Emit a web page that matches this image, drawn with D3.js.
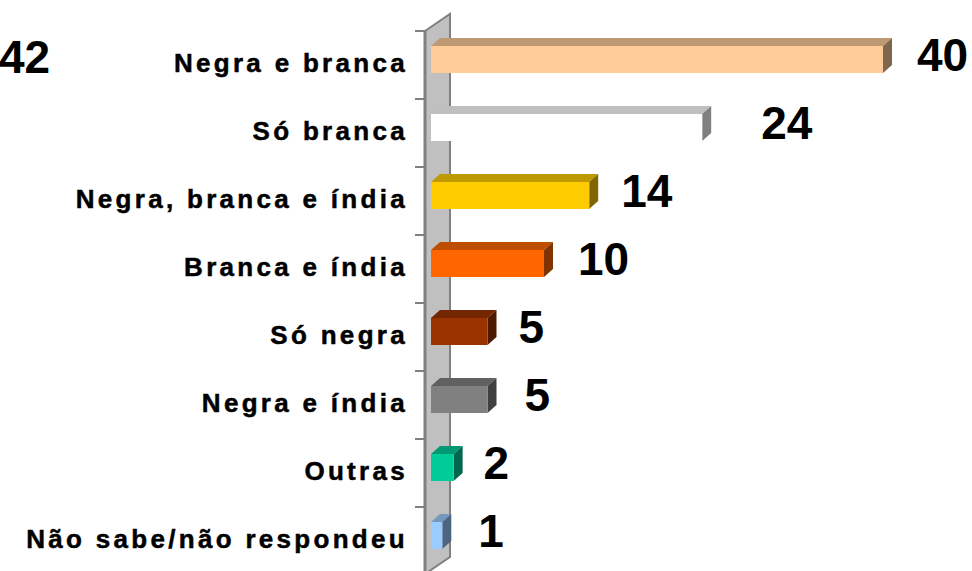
<!DOCTYPE html>
<html>
<head>
<meta charset="utf-8">
<script src="https://cdn.jsdelivr.net/npm/d3@7"></script>
<style>
  body { margin: 0; background: #fff; }
</style>
</head>
<body>
<script>
// data
var categories = ["Negra e branca", "Só branca", "Negra, branca e índia", "Branca e índia",
                  "Só negra", "Negra e índia", "Outras", "Não sabe/não respondeu"];
var values = [40, 24, 14, 10, 5, 5, 2, 1];
var barColors = ["#FFCC99", "#FFFFFF", "#FFCC00", "#FF6600", "#993300", "#808080", "#00CC99", "#99CCFF"];
var strayLabel = "42";

var W = 972, H = 571;
var svg = d3.select("body").append("svg")
  .attr("width", W).attr("height", H);

var x = d3.scaleLinear().domain([0, 40]).range([431, 883]);
var y = d3.scaleBand().domain(categories).range([31, 575]);

// depth of the bars and of the wall
var dx = 9, dy = 8;
var barOff = 15, barH = 27;
// gaps between bar end and value label (manual placement in original)
var labelGap = [25, 50, 23, 25, 22, 28, 21, 27];

function shade(c, k) {
  var r = d3.rgb(c);
  return d3.rgb(r.r * k, r.g * k, r.b * k).formatHex();
}

// wall
var wx0 = 425, wx1 = 450, wTop = 31, wDepth = 17, wBot = 574;
svg.append("path")
  .attr("d", "M" + wx0 + "," + wTop + "L" + wx1 + "," + (wTop - wDepth) +
             "L" + wx1 + "," + (wBot - wDepth) + "L" + wx0 + "," + wBot + "Z")
  .attr("fill", "#C0C0C0")
  .attr("stroke", "#808080")
  .attr("stroke-width", 2);
svg.append("line")
  .attr("x1", wx0).attr("x2", wx0).attr("y1", wTop).attr("y2", wBot)
  .attr("stroke", "#808080").attr("stroke-width", 3);

// tick marks
svg.selectAll(".tick")
  .data(categories)
  .enter().append("line")
  .attr("x1", 415).attr("x2", wx0)
  .attr("y1", function(d){ return y(d) })
  .attr("y2", function(d){ return y(d) })
  .attr("stroke", "#808080").attr("stroke-width", 2);

// bars
var bars = svg.selectAll(".bar")
  .data(values)
  .enter().append("g");

bars.append("path")  // top face
  .attr("d", function(d, i){
    var x0 = x(0), x1 = x(d), t = y(categories[i]) + barOff;
    return "M" + x0 + "," + t + "L" + x1 + "," + t + "L" + (x1 + dx) + "," + (t - dy) +
           "L" + (x0 + dx) + "," + (t - dy) + "Z";
  })
  .attr("fill", function(d, i){ return shade(barColors[i], 0.75) });

bars.append("path")  // side face
  .attr("d", function(d, i){
    var x1 = x(d), t = y(categories[i]) + barOff, b = t + barH;
    return "M" + x1 + "," + t + "L" + (x1 + dx) + "," + (t - dy) + "L" + (x1 + dx) + "," + (b - dy) +
           "L" + x1 + "," + b + "Z";
  })
  .attr("fill", function(d, i){ return shade(barColors[i], 0.5) });

bars.append("rect")  // front face
  .attr("x", x(0))
  .attr("y", function(d, i){ return y(categories[i]) + barOff })
  .attr("width", function(d){ return x(d) - x(0) })
  .attr("height", barH)
  .attr("fill", function(d, i){ return barColors[i] });

// value labels
svg.selectAll(".val")
  .data(values)
  .enter().append("text")
  .attr("x", function(d, i){ return x(d) + dx + labelGap[i] })
  .attr("y", function(d, i){ return y(categories[i]) + barOff + barH - 2 })
  .attr("font-family", "Liberation Sans, Arial, sans-serif")
  .attr("font-weight", "bold")
  .attr("font-size", 46)
  .attr("fill", "#000")
  .text(function(d){ return d });

svg.append("text")
  .attr("x", -1).attr("y", 73)
  .attr("font-family", "Liberation Sans, Arial, sans-serif")
  .attr("font-weight", "bold")
  .attr("font-size", 46)
  .text(strayLabel);

// category labels
svg.selectAll(".cat")
  .data(categories)
  .enter().append("text")
  .attr("x", 408)
  .attr("y", function(d){ return y(d) + barOff + barH - 1 })
  .attr("text-anchor", "end")
  .attr("font-family", "Liberation Sans, Arial, sans-serif")
  .attr("font-weight", "bold")
  .attr("font-size", 26)
  .attr("letter-spacing", 3.3)
  .attr("stroke", "#000")
  .attr("stroke-width", 0.5)
  .text(function(d){ return d });
</script>
</body>
</html>
